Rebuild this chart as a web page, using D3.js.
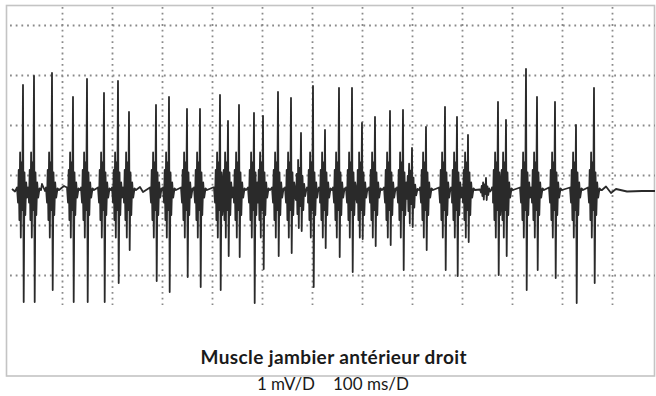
<!DOCTYPE html>
<html>
<head>
<meta charset="utf-8">
<script src="https://cdn.jsdelivr.net/npm/d3@7/dist/d3.min.js"></script>
<style>
  html, body { margin: 0; padding: 0; background: #fff; }
  svg { display: block; }
</style>
</head>
<body>
<svg id="chart" width="656" height="396"></svg>
<script>
// ---- Data ----
// Spike (motor-unit potential) times in ms
const spikeTimes = [22, 44, 80, 122, 150, 184, 212, 234, 288, 314, 350, 376, 416, 432, 454, 484, 502, 532, 558, 578,
  602, 626, 654, 680, 700, 726, 756, 782, 800, 828, 866, 890, 912, 948, 972, 988, 1028, 1050, 1086, 1128, 1164];
// Positive peak of each spike (mV above baseline)
const spikePos = [2.10, 2.28, 2.34, 1.86, 2.22, 1.94, 2.18, 1.56, 1.70, 1.86, 1.62, 1.62, 1.90, 1.38, 1.70, 1.54, 1.48, 1.96, 1.84, 1.14,
  2.08, 1.20, 2.04, 2.04, 1.34, 1.46, 1.58, 1.60, 0.84, 1.26, 1.66, 1.46, 1.10, 0.24, 1.76, 1.40, 2.42, 1.86, 1.76, 1.30, 2.04];
// Negative peak of each spike (mV below baseline)
const spikeNeg = [-2.24, -2.24, -2.00, -2.24, -2.24, -2.24, -1.86, -1.20, -1.82, -2.04, -1.74, -1.94, -2.00, -1.32, -1.34, -2.26, -1.58, -1.32, -1.26, -0.82,
  -1.94, -1.16, -1.34, -1.64, -0.98, -1.12, -1.10, -1.60, -0.74, -1.20, -1.60, -1.72, -1.04, -0.20, -1.70, -1.32, -2.00, -1.60, -1.76, -2.26, -1.86];
// Size of the dense burst around each spike (relative)
const spikeBurst = [1, 1, 1, 1, 1, 1, 1, 1, 1, 1, 1, 1, 1, 1, 1, 1, 1, 1, 1, 0.8,
  1, 1, 1, 1, 1, 1, 1, 1, 0.7, 1, 1, 1, 1, 0.2, 1, 1, 1, 1, 1, 1, 1];
// Shape of one burst: [ms offset from the spike, mV] ; "P"/"N" = the spike's own peaks
const burstShape = [[-12, 0.05], [-10, -0.25], [-8.6, 0.4], [-7.2, -0.6], [-5.8, 0.75], [-4.4, -0.95], [-3, 0.55], [-1.6, -0.4],
  [0, "P"], [1.4, "N"], [3, 0.35], [4.6, -0.5], [6.4, 0.15], [8.4, -0.15], [11, 0.03], [14, 0]];
// Quiet baseline at the start, between bursts and at the end of the record [ms, mV]
const quietTrace = [[0, 0.02], [6, -0.03], [60, 0.12], [66, -0.02], [104, 0.08], [256, 0.06], [262, -0.04], [402, 0.05],
  [1180, 0.0], [1188, 0.07], [1198, -0.06], [1208, 0.02], [1230, -0.03], [1260, -0.02], [1286, -0.02]];
// Grid (1 division = 100 ms, 1 division = 1 mV)
const gridTimes = [100, 200, 300, 400, 500, 600, 700, 800, 900, 1000, 1100, 1200];
const gridVolts = [3.3, 2.3, 1.3, 0.3, -0.7, -1.7];
const titleText = "Muscle jambier antérieur droit";
const scaleParts = ["1 mV/D", "100 ms/D"];

// ---- Drawing ----
const svg = d3.select("#chart");
const x = d3.scaleLinear().domain([0, 1300]).range([12, 662]);
const y = d3.scaleLinear().domain([-2.3, 3.8]).range([305, 0]);

// frame
svg.append("rect").attr("x", 6.5).attr("y", 5.5).attr("width", 648).attr("height", 370.5)
  .attr("fill", "#fff").attr("stroke", "#c4c4c4").attr("stroke-width", 1.6);

const grid = svg.append("g").attr("stroke", "#8a8a8a").attr("stroke-width", 1.8).attr("stroke-dasharray", "1.8,3.9");
grid.selectAll("line.h").data(gridVolts).join("line").attr("class", "h")
  .attr("x1", 10).attr("x2", 655).attr("y1", d => Math.round(y(d)) + 0.5).attr("y2", d => Math.round(y(d)) + 0.5);
grid.selectAll("line.v").data(gridTimes).join("line").attr("class", "v")
  .attr("x1", d => Math.round(x(d)) + 0.5).attr("x2", d => Math.round(x(d)) + 0.5).attr("y1", 7).attr("y2", 305);

// build the trace from the spikes and the burst shape
const pts = quietTrace.slice();
spikeTimes.forEach((t, i) => {
  burstShape.forEach(([dt, v]) => {
    let val;
    if (v === "P") val = spikePos[i];
    else if (v === "N") val = spikeNeg[i];
    else val = v * spikeBurst[i];
    pts.push([t + dt, val]);
  });
});
pts.sort((a, b) => a[0] - b[0]);

const line = d3.line().x(d => x(d[0])).y(d => y(d[1]));
svg.append("path").datum(pts).attr("d", line)
  .attr("fill", "none").attr("stroke", "#2a2a2a").attr("stroke-width", 1.8).attr("stroke-linejoin", "round");

// texts
svg.append("text").attr("x", 333.5).attr("y", 364).attr("text-anchor", "middle")
  .attr("font-family", "Lato, 'Open Sans', sans-serif").attr("font-weight", "bold").attr("font-size", 19)
  .attr("textLength", 266).attr("lengthAdjust", "spacing")
  .attr("fill", "#1a1a1a").text(titleText);
svg.append("text").attr("x", 315).attr("y", 390).attr("text-anchor", "end")
  .attr("font-family", "Lato, 'Open Sans', sans-serif").attr("font-size", 17)
  .attr("fill", "#1a1a1a").text(scaleParts[0]);
svg.append("text").attr("x", 333).attr("y", 390).attr("text-anchor", "start")
  .attr("font-family", "Lato, 'Open Sans', sans-serif").attr("font-size", 17)
  .attr("fill", "#1a1a1a").text(scaleParts[1]);
</script>
</body>
</html>
